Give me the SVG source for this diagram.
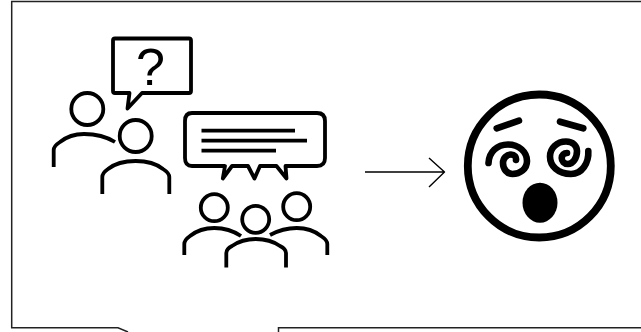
<svg xmlns="http://www.w3.org/2000/svg" width="641" height="332" viewBox="0 0 641 332">
<style>
.l{fill:none;stroke:#000;stroke-linejoin:round}
.ic{stroke-width:3.8}
.bar{stroke-width:3.8}
.fr{fill:none;stroke:#222;stroke-width:1.5}
.sp{fill:none;stroke:#000;stroke-width:6.600;stroke-linecap:round}
</style>
<rect width="641" height="332" fill="#fff"/>
<g id="frame"><path class="fr" d="M641 1.500H11.700V327.800H118L128 332M278.500 332V327.800H641"/></g>
<g id="asker">
<path class="l ic" d="M115 38.500H189Q191 38.500 191 40.500V91Q191 93 189 93H142L127.500 108.500L129.500 93H115Q113 93 113 91V40.500Q113 38.500 115 38.500Z"/>
<text x="150.500" y="85" text-anchor="middle" font-family="Liberation Sans, sans-serif" font-size="52">?</text>
<circle class="l ic" cx="87.300" cy="109" r="16"/>
<path class="l ic" d="M53.700 167V150Q53.700 146 60 142Q70 134 84 134Q102 134 115 142"/>
<circle class="l ic" cx="135.700" cy="136" r="16"/>
<path class="l ic" d="M102.300 194V177Q102.300 173 108 169Q118 161 135.700 161Q153 161 163 169Q169.300 173 169.300 177V194"/>
</g>
<g id="group">
<path class="l ic" d="M192 113H317Q325 113 325 121V158Q325 166 317 166H285.500L286.500 178.500L276.500 166H260L254.500 178.500L248 166H232L222.800 178.500L225 166H192Q185 166 185 158V121Q185 113 192 113Z"/>
<path class="l bar" d="M201.500 130.700H295M201.500 140.700H307M201.500 150.700H276"/>
<circle class="l ic" cx="214.300" cy="207.700" r="13.500"/>
<circle class="l ic" cx="255.700" cy="219.300" r="13.500"/>
<circle class="l ic" cx="296.700" cy="206.700" r="13.500"/>
<path class="l ic" d="M184.300 255V244Q184.300 240 190 236Q200 228 214.300 228Q229 228 241 236"/>
<path class="l ic" d="M270 235Q283 228 296.700 228Q311 228 321 236Q327.300 240 327.300 244V255"/>
<path class="l ic" d="M226.300 267.500V253Q226.300 249 232 246Q242 239 255.700 239Q270 239 280 246Q286 249 286 253V267.500"/>
</g>
<g id="connectors"><path class="l" stroke-width="1.4" d="M365 172H444.500M429 158L444.500 172L429 187"/></g>
<g id="face">
<circle cx="539.300" cy="166" r="71.500" fill="none" stroke="#000" stroke-width="7.800"/>
<path class="sp" d="M496.700 128.300L519 120.700M560 121.700L583.300 128.300"/>
<path class="sp" d="M488.500 163C489 152 497 144.500 508 144.500C519 144.500 527 152 527 161C527 169 520 174 512.500 174C507 174 503 169 503 163C503 158 507 154.500 511 154.500C514.500 154.500 516.500 157 516 160"/>
<path class="sp" d="M588.300 151C589 163 582 174 571 174C558 174 550 166 550 156.500C550 148 557 141.500 566 141.500C573 141.500 577 146 577 151C577 158 573 164 568 164C564 164 561.700 161 561.700 158C561.700 155 564 153 567 153"/>
<ellipse cx="540" cy="202.700" rx="17.500" ry="20"/>
</g>
</svg>
